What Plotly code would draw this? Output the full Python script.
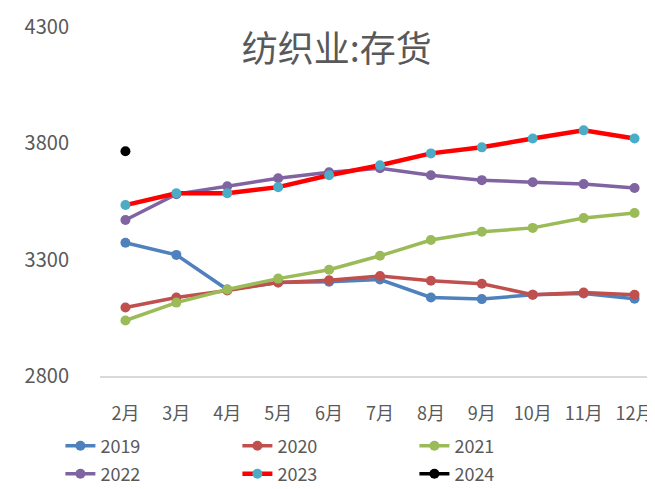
import plotly.graph_objects as go

months = ["2月", "3月", "4月", "5月", "6月", "7月", "8月", "9月", "10月", "11月", "12月"]
y2019 = [3373, 3321, 3172, 3202, 3206, 3215, 3138, 3131, 3150, 3155, 3133]
y2020 = [3095, 3138, 3168, 3202, 3212, 3230, 3210, 3197, 3150, 3159, 3150]
y2021 = [3039, 3116, 3172, 3219, 3257, 3317, 3385, 3420, 3437, 3479, 3501]
y2022 = [3471, 3582, 3616, 3650, 3676, 3693, 3663, 3642, 3633, 3625, 3608]
y2023 = [3535, 3586, 3586, 3612, 3663, 3706, 3757, 3783, 3821, 3856, 3821]
y2024 = [3766]

series = [
    ("2019", y2019, "#4f81bd", "#4f81bd", 3.5, "legend"),
    ("2020", y2020, "#c0504d", "#c0504d", 3.5, "legend"),
    ("2021", y2021, "#9bbb59", "#9bbb59", 3.5, "legend"),
    ("2022", y2022, "#8064a2", "#8064a2", 3.5, "legend2"),
    ("2023", y2023, "#ff0000", "#4bacc6", 4.5, "legend2"),
    ("2024", y2024, "#000000", "#000000", 3.5, "legend2"),
]

fig = go.Figure()
for name, vals, lc, mc, w, lg in series:
    fig.add_trace(go.Scatter(
        x=months[:len(vals)], y=vals, name=name, mode="lines+markers",
        line=dict(color=lc, width=w),
        marker=dict(color=mc, size=10, symbol="circle"),
        legend=lg,
    ))

font_family = "Noto Sans CJK SC, DejaVu Sans, sans-serif"
leg_common = dict(orientation="h", xref="container", yref="container",
                  x=0.08, xanchor="left", yanchor="middle",
                  entrywidth=132, entrywidthmode="pixels",
                  font=dict(size=18, color="#595959"), traceorder="normal",
                  bgcolor="rgba(0,0,0,0)")
fig.update_layout(
    width=655, height=489,
    margin=dict(l=92, r=3, t=18, b=120),
    paper_bgcolor="white", plot_bgcolor="white",
    font=dict(family=font_family, color="#595959", size=16),
    title=dict(text="纺织业:存货", x=0.502, xref="container", xanchor="center",
               y=1 - 41 / 489, yref="container", yanchor="middle",
               font=dict(size=36, color="#595959", family=font_family)),
    xaxis=dict(type="category", categoryorder="array", categoryarray=months,
               range=[-0.5, 10.5], showgrid=False, zeroline=False,
               showline=True, linecolor="#d9d9d9", linewidth=1.5,
               ticks="", ticklabelstandoff=20,
               tickfont=dict(size=18, color="#595959")),
    yaxis=dict(range=[2800, 4300], tickvals=[2800, 3300, 3800, 4300],
               showgrid=False, zeroline=False, showline=False, ticks="",
               ticklabelstandoff=30, tickfont=dict(size=20, color="#595959")),
    legend=dict(y=1 - 438 / 489, **leg_common),
    legend2=dict(y=1 - 466 / 489, **leg_common),
    showlegend=True,
)
fig.write_html("out.html")
